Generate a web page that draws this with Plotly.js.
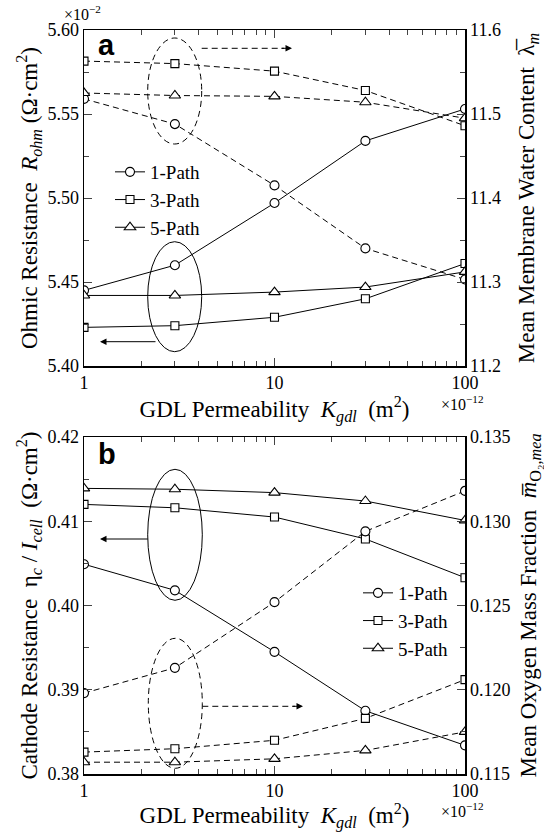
<!DOCTYPE html>
<html>
<head>
<meta charset="utf-8">
<script src="https://cdn.plot.ly/plotly-3.0.1.min.js"></script>
<style>html,body{margin:0;padding:0;background:#fff;}#chart{width:544px;height:832px;}</style>
</head>
<body>
<div id="chart"></div>
<script>
// ---- data ----
const permeability = [1, 3, 10, 30, 100];           // GDL permeability (x 1e-12 m^2)
const pathNames = ['1-Path', '3-Path', '5-Path'];
// panel a: ohmic resistance (x 1e-2 ohm cm^2), left axis
const ohm1 = [5.445, 5.460, 5.497, 5.534, 5.553];
const ohm3 = [5.423, 5.424, 5.429, 5.440, 5.461];
const ohm5 = [5.442, 5.442, 5.444, 5.447, 5.456];
// panel a: mean membrane water content, right axis
const lambda1 = [11.518, 11.488, 11.415, 11.340, 11.303];
const lambda3 = [11.563, 11.560, 11.551, 11.528, 11.486];
const lambda5 = [11.525, 11.522, 11.521, 11.514, 11.495];
// panel b: cathode resistance (ohm cm^2), left axis
const cath1 = [0.4049, 0.4018, 0.3945, 0.3875, 0.3834];
const cath3 = [0.4120, 0.4116, 0.4105, 0.4079, 0.4033];
const cath5 = [0.4139, 0.4138, 0.4134, 0.4124, 0.4101];
// panel b: mean oxygen mass fraction, right axis
const o2m1 = [0.1198, 0.1213, 0.1252, 0.1294, 0.1318];
const o2m3 = [0.1163, 0.1165, 0.1170, 0.1183, 0.1206];
const o2m5 = [0.1157, 0.1157, 0.1159, 0.1164, 0.1175];
const xTickVals = [1, 10, 100];
const xTickText = ['1', '10', '100'];
const xMinorVals = [2, 3, 4, 5, 6, 7, 8, 9, 20, 30, 40, 50, 60, 70, 80, 90];

const SERIF = 'Liberation Serif';
const SANS = 'Liberation Sans';
const symbols = ['circle', 'square', 'triangle-up'];
const msizes = [9, 8, 10];

function tr(y, i, xa, ya, dashed, legend) {
  return {
    x: permeability, y: y, xaxis: xa, yaxis: ya, type: 'scatter', mode: 'lines+markers',
    name: pathNames[i], legend: legend, showlegend: !dashed,
    line: {color: '#000', width: 1, dash: dashed ? '6px,4px' : 'solid'},
    marker: {symbol: symbols[i], size: msizes[i], color: '#fff', line: {color: '#000', width: 1.1}}
  };
}

const data = [
  tr(lambda1, 0, 'x', 'y2', true, 'legend'),
  tr(lambda3, 1, 'x', 'y2', true, 'legend'),
  tr(lambda5, 2, 'x', 'y2', true, 'legend'),
  tr(ohm1, 0, 'x', 'y', false, 'legend'),
  tr(ohm3, 1, 'x', 'y', false, 'legend'),
  tr(ohm5, 2, 'x', 'y', false, 'legend'),
  tr(o2m1, 0, 'x2', 'y4', true, 'legend2'),
  tr(o2m3, 1, 'x2', 'y4', true, 'legend2'),
  tr(o2m5, 2, 'x2', 'y4', true, 'legend2'),
  tr(cath1, 0, 'x2', 'y3', false, 'legend2'),
  tr(cath3, 1, 'x2', 'y3', false, 'legend2'),
  tr(cath5, 2, 'x2', 'y3', false, 'legend2')
];

const tickFont = {family: SERIF, size: 18, color: '#000'};
const titleFont = {family: SERIF, size: 23, color: '#000'};

function xax(anchor) {
  return {
    type: 'log', range: [0, 2], anchor: anchor,
    tickvals: xTickVals, ticktext: xTickText, ticks: 'inside', ticklen: 8, tickwidth: 1,
    minor: {ticks: 'inside', ticklen: 5, tickwidth: 1, tickmode: 'array', tickvals: xMinorVals, showgrid: false},
    showline: true, linewidth: 1.5, linecolor: '#000', mirror: 'ticks',
    showgrid: false, zeroline: false, tickfont: tickFont,
    title: {text: 'GDL Permeability\u00a0\u00a0<i>K<sub>gdl</sub></i>\u00a0\u00a0(m<sup>2</sup>)', font: titleFont, standoff: 0}
  };
}
function yax(range, dtick, minor, fmt, side, extra) {
  return Object.assign({
    range: range, dtick: dtick, tick0: range[0], tickformat: fmt, side: side,
    ticks: 'inside', ticklen: 8, tickwidth: 1,
    minor: {ticks: 'inside', ticklen: 5, tickwidth: 1, dtick: minor, tick0: range[0], showgrid: false},
    showline: true, linewidth: 1.5, linecolor: '#000', mirror: false,
    showgrid: false, zeroline: false, tickfont: tickFont
  }, extra);
}

const P = (px) => (px - 84) / 381;      // pixel x -> paper x
const Q = (py) => (774 - py) / 744;     // pixel y -> paper y

function ellipse(x0, x1, y0, y1, dashed) {
  return {type: 'circle', xref: 'paper', yref: 'paper', x0: P(x0), x1: P(x1), y0: Q(y1), y1: Q(y0),
    line: {color: '#000', width: 1, dash: dashed ? '6px,4px' : 'solid'}};
}
function dline(x0, x1, y) {
  return {type: 'line', xref: 'paper', yref: 'paper', x0: P(x0), x1: P(x1), y0: Q(y), y1: Q(y),
    line: {color: '#000', width: 1, dash: '6px,4px'}};
}
function arrow(xtip, xtail, y) {
  return {xref: 'paper', yref: 'paper', x: P(xtip), y: Q(y), ax: xtail - xtip, ay: 0, axref: 'pixel', ayref: 'pixel',
    text: '', showarrow: true, arrowhead: 2, arrowsize: 1.3, arrowwidth: 1, arrowcolor: '#000'};
}

const layout = {
  width: 544, height: 832, paper_bgcolor: '#fff', plot_bgcolor: '#fff',
  margin: {l: 84, r: 79, t: 30, b: 58},
  font: {family: SERIF, color: '#000'},
  xaxis: xax('y'),
  yaxis: yax([5.40, 5.60], 0.05, 0.025, '.2f', 'left', {domain: [Q(366), 1],
    title: {text: 'Ohmic Resistance\u00a0\u00a0<i>R<sub>ohm</sub></i>\u00a0(Ω·cm<sup>2</sup>)', font: titleFont, standoff: 3}}),
  yaxis2: yax([11.2, 11.6], 0.1, 0.05, '.1f', 'right', {overlaying: 'y', anchor: 'x',
    title: {text: 'Mean Membrane Water Content\u00a0\u00a0λ\u0305<sub><i>m</i></sub>', font: titleFont, standoff: 18}}),
  xaxis2: xax('y3'),
  yaxis3: yax([0.38, 0.42], 0.01, 0.005, '.2f', 'left', {domain: [0, Q(437)],
    title: {text: 'Cathode Resistance\u00a0\u00a0η<sub><i>c</i></sub> / <i>I<sub>cell</sub></i>\u00a0\u00a0(Ω·cm<sup>2</sup>)', font: titleFont, standoff: 3}}),
  yaxis4: yax([0.115, 0.135], 0.005, 0.0025, '.3f', 'right', {overlaying: 'y3', anchor: 'x2',
    title: {text: 'Mean Oxygen Mass Fraction\u00a0\u00a0<i>m\u0305</i><sub>O₂,<i>mea</i></sub>', font: titleFont, standoff: 12}}),
  legend: {x: P(110), y: Q(153), xanchor: 'left', yanchor: 'top', bgcolor: 'rgba(0,0,0,0)',
    font: {family: SERIF, size: 19, color: '#000'}, tracegroupgap: 0, itemwidth: 30},
  legend2: {x: P(358), y: Q(574), xanchor: 'left', yanchor: 'top', bgcolor: 'rgba(0,0,0,0)',
    font: {family: SERIF, size: 19, color: '#000'}, tracegroupgap: 0, itemwidth: 30},
  shapes: [
    ellipse(147.7, 201.7, 38, 144, true),
    dline(201.7, 284, 48.3),
    ellipse(147.7, 201.7, 241.7, 351.7, false),
    ellipse(147.7, 202.3, 469.3, 600.3, false),
    ellipse(148.3, 202.3, 638.3, 768.3, true),
    dline(202.3, 295, 706.3)
  ],
  annotations: [
    arrow(292, 280, 48.3),
    arrow(100, 157, 341.7),
    arrow(100, 149.3, 539),
    arrow(303, 291, 706.3),
    {xref: 'paper', yref: 'paper', x: P(96), y: Q(45), xanchor: 'left', yanchor: 'middle', showarrow: false,
      text: '<b>a</b>', font: {family: SANS, size: 29, color: '#000'}},
    {xref: 'paper', yref: 'paper', x: P(96), y: Q(454), xanchor: 'left', yanchor: 'middle', showarrow: false,
      text: '<b>b</b>', font: {family: SANS, size: 29, color: '#000'}},
    {xref: 'paper', yref: 'paper', x: P(82), y: Q(13), xanchor: 'center', yanchor: 'middle', showarrow: false,
      text: '×10<sup>−2</sup>', font: {family: SERIF, size: 16, color: '#000'}},
    {xref: 'paper', yref: 'paper', x: P(462), y: Q(403), xanchor: 'center', yanchor: 'middle', showarrow: false,
      text: '×10<sup>−12</sup>', font: {family: SERIF, size: 16, color: '#000'}},
    {xref: 'paper', yref: 'paper', x: P(462), y: Q(810), xanchor: 'center', yanchor: 'middle', showarrow: false,
      text: '×10<sup>−12</sup>', font: {family: SERIF, size: 16, color: '#000'}}
  ]
};

Plotly.newPlot('chart', data, layout, {displayModeBar: false, staticPlot: true});
</script>
</body>
</html>
